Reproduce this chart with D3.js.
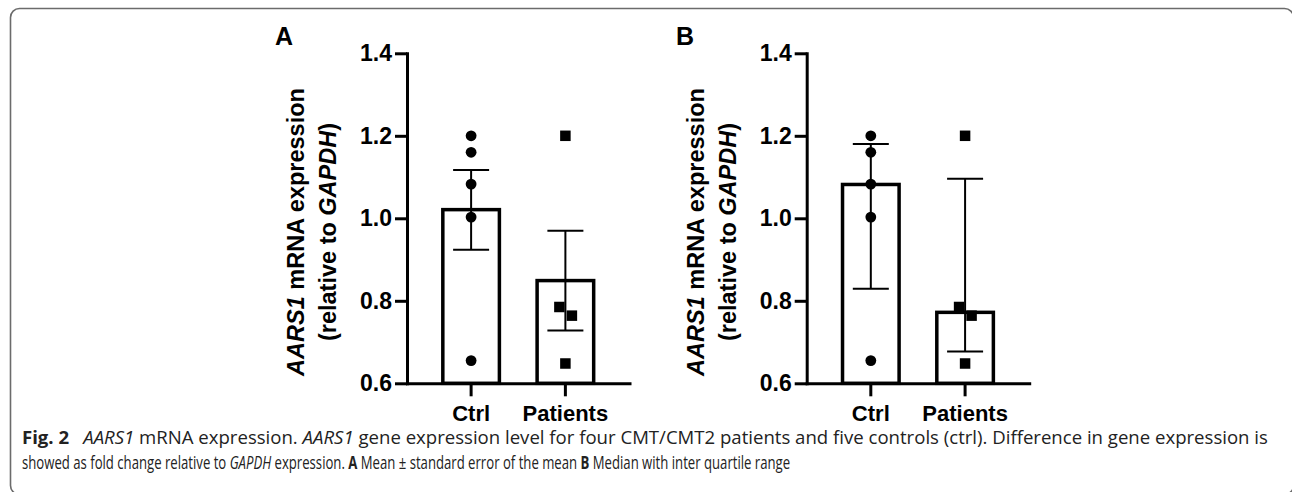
<!DOCTYPE html>
<html>
<head>
<meta charset="utf-8">
<script src="https://cdn.jsdelivr.net/npm/d3@7"></script>
<style>
  body { margin: 0; background: #fff; }
  svg text { font-family: "Liberation Sans", Arial, sans-serif; fill: #000; }
  .caption text { font-family: "Open Sans", "Noto Sans", sans-serif; fill: #222; }
</style>
</head>
<body>
<svg id="fig" width="1292" height="492"></svg>
<script>
// values
const categories = ["Ctrl", "Patients"];
const ctrlValues = [1.2, 1.16, 1.083, 1.003, 0.655];
const patientValues = [1.2, 0.785, 0.764, 0.648];
const yTicks = [0.6, 0.8, 1.0, 1.2, 1.4];

// panel A: mean +- SEM
const meanA = [1.021, 0.849];
const semLowA = [0.924, 0.728];
const semHighA = [1.117, 0.970];

// panel B: median with IQR
const medianB = [1.082, 0.772];
const iqrLowB = [0.829, 0.677];
const iqrHighB = [1.180, 1.096];

const svg = d3.select("#fig");

// frame round the figure
svg.append("rect")
  .attr("x", 10.5).attr("y", 8.5)
  .attr("width", 1283).attr("height", 486)
  .attr("rx", 9)
  .attr("fill", "none")
  .attr("stroke", "#6b6b6b")
  .attr("stroke-width", 1.6);

const y = d3.scaleLinear().domain([0.6, 1.4]).range([383.3, 53.3]);

// small dodge so overlapping points sit side by side
function dodge(values) {
  const r = 5.5;
  const out = values.map((v) => ({ v, dx: 0 }));
  for (let i = 0; i < out.length; i++) {
    for (let j = 0; j < i; j++) {
      if (Math.abs(y(out[i].v) - y(out[j].v)) < r * 2 && out[j].dx === 0) {
        out[j].dx = -6;
        out[i].dx = 6.5;
      }
    }
  }
  return out;
}

function drawPanel(o) {
  const g = svg.append("g");

  const x = d3.scaleBand()
    .domain(categories)
    .range([o.left, o.left + 222.5])
    .paddingInner(0.4)
    .paddingOuter(0.38);

  // panel letter
  g.append("text")
    .attr("x", o.letterX).attr("y", 45)
    .attr("font-size", 25).attr("font-weight", "bold")
    .text(o.letter);

  // y axis
  const yAxis = g.append("g")
    .attr("transform", `translate(${o.left},0)`)
    .call(d3.axisLeft(y).tickValues(yTicks).tickFormat(d3.format(".1f"))
      .tickSize(12).tickSizeOuter(0).tickPadding(3));
  yAxis.selectAll("text").attr("font-size", 23).attr("font-weight", "bold")
    .style("font-family", '"Liberation Sans", Arial, sans-serif');

  // x axis
  const xAxis = g.append("g")
    .attr("transform", `translate(0,${y(0.6)})`)
    .call(d3.axisBottom(x).tickSize(13).tickSizeOuter(0).tickPadding(9));
  xAxis.selectAll("text").attr("font-size", 22).attr("font-weight", "bold")
    .style("font-family", '"Liberation Sans", Arial, sans-serif');

  [yAxis, xAxis].forEach((a) => {
    a.select(".domain").attr("stroke", "#000").attr("stroke-width", 3)
      .attr("stroke-linecap", "square");
    a.selectAll(".tick line").attr("stroke", "#000").attr("stroke-width", 3);
  });

  // y title
  const title = g.append("text")
    .attr("transform", `translate(${o.left - 103},232) rotate(-90)`)
    .attr("text-anchor", "middle")
    .attr("font-size", 23.5).attr("font-weight", "bold");
  const l1 = title.append("tspan").attr("x", 0).attr("y", 0);
  l1.append("tspan").attr("font-style", "italic").text("AARS1");
  l1.append("tspan").text(" mRNA expression");
  const l2 = title.append("tspan").attr("x", 0).attr("y", 32);
  l2.append("tspan").text("(relative to ");
  l2.append("tspan").attr("font-style", "italic").text("GAPDH");
  l2.append("tspan").text(")");

  // bars
  g.selectAll(".bar")
    .data(categories)
    .join("rect")
    .attr("class", "bar")
    .attr("x", (d) => x(d))
    .attr("width", x.bandwidth())
    .attr("y", (d, i) => y(o.bar[i]))
    .attr("height", (d, i) => y(0.6) - y(o.bar[i]))
    .attr("fill", "#fff")
    .attr("stroke", "#000")
    .attr("stroke-width", 3.5);

  // error bars
  const cap = 18;
  categories.forEach((c, i) => {
    const cx = x(c) + x.bandwidth() / 2;
    const eb = g.append("g").attr("stroke", "#000").attr("stroke-width", 2);
    eb.append("line").attr("x1", cx).attr("x2", cx)
      .attr("y1", y(o.lo[i])).attr("y2", y(o.hi[i]));
    eb.append("line").attr("x1", cx - cap).attr("x2", cx + cap)
      .attr("y1", y(o.lo[i])).attr("y2", y(o.lo[i]));
    eb.append("line").attr("x1", cx - cap).attr("x2", cx + cap)
      .attr("y1", y(o.hi[i])).attr("y2", y(o.hi[i]));
  });

  // individual points
  const cCx = x("Ctrl") + x.bandwidth() / 2;
  g.selectAll(".dot")
    .data(dodge(ctrlValues))
    .join("circle")
    .attr("class", "dot")
    .attr("cx", (d) => cCx + d.dx)
    .attr("cy", (d) => y(d.v))
    .attr("r", 5.4)
    .attr("fill", "#000");

  const pCx = x("Patients") + x.bandwidth() / 2;
  const s = 10.5;
  g.selectAll(".sq")
    .data(dodge(patientValues))
    .join("rect")
    .attr("class", "sq")
    .attr("x", (d) => pCx + d.dx - s / 2)
    .attr("y", (d) => y(d.v) - s / 2)
    .attr("width", s).attr("height", s)
    .attr("fill", "#000");
}

drawPanel({ left: 407, letter: "A", letterX: 275, bar: meanA, lo: semLowA, hi: semHighA });
drawPanel({ left: 806.7, letter: "B", letterX: 676, bar: medianB, lo: iqrLowB, hi: iqrHighB });

// caption
const captionLines = [
  [
    { t: "Fig. 2", w: "bold" },
    { t: "\u2002 " },
    { t: "AARS1", s: "italic" },
    { t: " mRNA expression. " },
    { t: "AARS1", s: "italic" },
    { t: " gene expression level for four CMT/CMT2 patients and five controls (ctrl). Difference in gene expression is" }
  ],
  [
    { t: "showed as fold change relative to " },
    { t: "GAPDH", s: "italic" },
    { t: " expression. " },
    { t: "A", w: "bold" },
    { t: " Mean \u00b1 standard error of the mean " },
    { t: "B", w: "bold" },
    { t: " Median with inter quartile range" }
  ]
];
// widths each caption line takes in the figure
const captionWidths = [1246, 769];

const capG = svg.append("g").attr("class", "caption");
const capTexts = captionLines.map((segs, i) => {
  const t = capG.append("g")
    .append("text")
    .attr("x", 0).attr("y", 444 + i * 25)
    .attr("font-size", 15);
  segs.forEach((sg) => {
    t.append("tspan")
      .attr("font-weight", sg.w || "normal")
      .attr("font-style", sg.s || "normal")
      .text(sg.t);
  });
  return t;
});
// font size from the first line, then each line set to its width
const fs = 15 * captionWidths[0] / capTexts[0].node().getComputedTextLength();
capTexts.forEach((t) => t.attr("font-size", fs));
capTexts.forEach((t, i) => {
  const k = captionWidths[i] / t.node().getComputedTextLength();
  d3.select(t.node().parentNode).attr("transform", `translate(22,0) scale(${k},1)`);
});
</script>
</body>
</html>
